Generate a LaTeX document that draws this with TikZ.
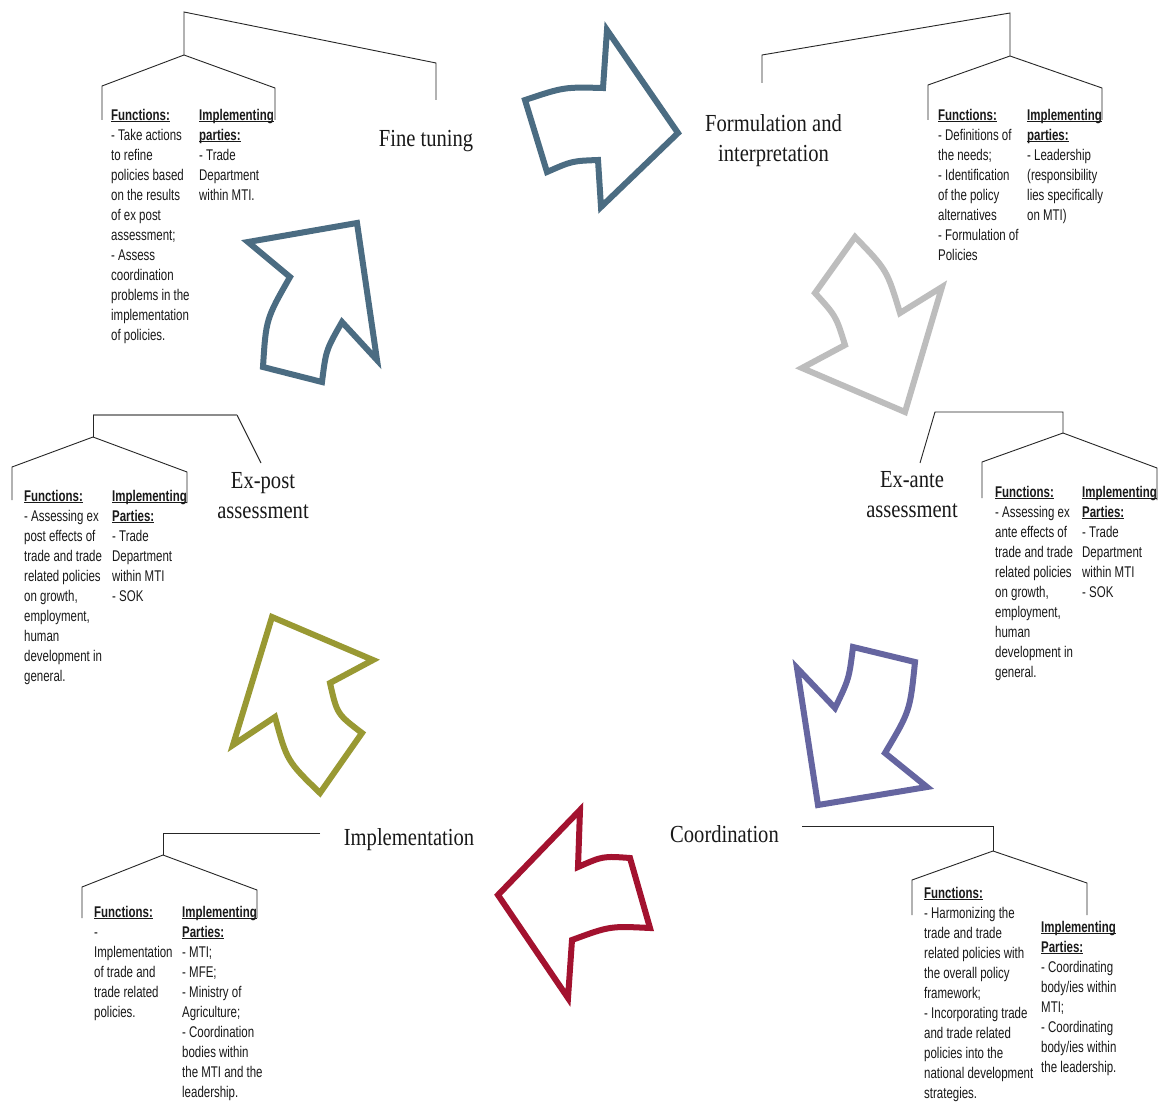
\documentclass[tikz,border=0pt]{standalone}
\usepackage{fontspec}
\setmainfont{Liberation Serif}
\newfontfamily\titlefont[FakeStretch=0.84]{Liberation Serif}
\newfontfamily\smallfont[FakeStretch=0.74]{Liberation Sans}
\definecolor{cBlue}{HTML}{4B6C82}
\definecolor{cGray}{HTML}{BDBDBD}
\definecolor{cPurple}{HTML}{6565A0}
\definecolor{cRed}{HTML}{A3122F}
\definecolor{cOlive}{HTML}{999933}
\newcommand\hdr[1]{\underline{\smash{\textbf{#1}}}}
\begin{document}
\begin{tikzpicture}[x=1pt,y=-1pt,
  arr/.style={line width=6pt, line join=miter, miter limit=10, fill=white},
  brk/.style={line width=0.9pt, draw=black!85, line join=miter},
  col/.style={anchor=north west, inner sep=0pt, align=left, text=black!90, font=\smallfont\fontsize{15.5}{20}\selectfont},
  ttl/.style={inner sep=0pt, text=black!90, font=\titlefont\fontsize{24.5}{30}\selectfont}]
\fill[white] (0,0) rectangle (1159,1102);
\useasboundingbox (0,0) rectangle (1159,1102);

% ---------- arrows ----------
\draw[arr, draw=cBlue] (525,100) .. controls (564,87) .. (603,88) -- (607,30) -- (678,133) -- (601,207) -- (598,160) .. controls (572,161) .. (547,172) -- cycle;
\draw[arr, draw=cGray] (855,237) .. controls (887,270) .. (900,313) -- (942,287) -- (905,412) -- (802,368) -- (845,345) .. controls (836,316) .. (815,293) -- cycle;
\draw[arr, draw=cPurple] (915,662) .. controls (910,711) .. (885,753) -- (927,787) -- (818,805) -- (797,668) -- (835,708) .. controls (849,679) .. (853,647) -- cycle;
\draw[arr, draw=cRed] (580,810) -- (578,867) .. controls (603,856) .. (630,858) -- (650,928) .. controls (610,926) .. (572,940) -- (568,998) -- (498,895) -- cycle;
\draw[arr, draw=cOlive] (272,617) -- (373,660) -- (330,683) .. controls (337,714) .. (362,733) -- (320,793) .. controls (287,761) .. (275,717) -- (233,745) -- cycle;
\draw[arr, draw=cBlue] (248,242) -- (357,223) -- (377,360) -- (342,322) .. controls (326,350) .. (322,382) -- (263,367) .. controls (266,319) .. (290,277) -- cycle;

% ---------- titles ----------
\node[ttl, anchor=base] (fine) at (426,147) {Fine tuning};
\node[ttl, anchor=north, align=center] (form) at (773.5,110.7) {\strut Formulation and\\interpretation};
\node[ttl, anchor=north, align=center] (expost) at (263,467) {\strut Ex-post\\assessment};
\node[ttl, anchor=north, align=center] (exante) at (912,466) {\strut Ex-ante\\assessment};
\node[ttl, anchor=base] (impl) at (409,845) {Implementation};
\node[ttl, anchor=base] (coord) at (724.5,842) {Coordination};

% ---------- brackets ----------
\draw[brk] (436,100) -- (436,63) -- (184,12) -- (184,55);
\draw[brk] (102,120) -- (102,86) -- (184,55) -- (275,88) -- (275,120);

\draw[brk] (762,83) -- (762,55) -- (1010,13) -- (1010,56);
\draw[brk] (928,120) -- (928,85) -- (1010,56) -- (1102,88) -- (1102,120);

\draw[brk] (261,463) -- (237,415);
\draw[line width=1.6pt, draw=black!45] (237,415) -- (93,415);
\draw[brk] (93,415) -- (93,437);
\draw[brk] (12,500) -- (12,467) -- (93,437) -- (187,472) -- (187,503);

\draw[brk] (920,463) -- (935,412) -- (1063,412) -- (1063,433);
\draw[brk] (982,498) -- (982,462) -- (1063,433) -- (1157,468) -- (1157,500);

\draw[brk] (320,833) -- (163,833) -- (163,855);
\draw[brk] (82,918) -- (82,887) -- (163,855) -- (257,890) -- (257,918);

\draw[brk] (802,826) -- (993,826) -- (993,851);
\draw[brk] (912,915) -- (912,880) -- (993,851) -- (1087,883) -- (1087,915);

% ---------- text columns ----------
\node[col] (f1) at (111,106) {\strut\hdr{Functions:}\\- Take actions\\to refine\\policies based\\on the results\\of ex post\\assessment;\\- Assess\\coordination\\problems in the\\implementation\\of policies.};
\node[col] (i1) at (199,106) {\strut\hdr{Implementing}\\\hdr{parties:}\\- Trade\\Department\\within MTI.};

\node[col] (f2) at (938,106) {\strut\hdr{Functions:}\\- Definitions of\\the needs;\\- Identification\\of the policy\\alternatives\\- Formulation of\\Policies};
\node[col] (i2) at (1027,106) {\strut\hdr{Implementing}\\\hdr{parties:}\\- Leadership\\(responsibility\\lies specifically\\on MTI)};

\node[col] (f3) at (24,487) {\strut\hdr{Functions:}\\- Assessing ex\\post effects of\\trade and trade\\related policies\\on growth,\\employment,\\human\\development in\\general.};
\node[col] (i3) at (112,487) {\strut\hdr{Implementing}\\\hdr{Parties:}\\- Trade\\Department\\within MTI\\- SOK};

\node[col] (f4) at (995,483) {\strut\hdr{Functions:}\\- Assessing ex\\ante effects of\\trade and trade\\related policies\\on growth,\\employment,\\human\\development in\\general.};
\node[col] (i4) at (1082,483) {\strut\hdr{Implementing}\\\hdr{Parties:}\\- Trade\\Department\\within MTI\\- SOK};

\node[col] (f5) at (94,903) {\strut\hdr{Functions:}\\-\\Implementation\\of trade and\\trade related\\policies.};
\node[col] (i5) at (182,903) {\strut\hdr{Implementing}\\\hdr{Parties:}\\- MTI;\\- MFE;\\- Ministry of\\Agriculture;\\- Coordination\\bodies within\\the MTI and the\\leadership.};

\node[col] (f6) at (924,884) {\strut\hdr{Functions:}\\- Harmonizing the\\trade and trade\\related policies with\\the overall policy\\framework;\\- Incorporating trade\\and trade related\\policies into the\\national development\\strategies.};
\node[col] (i6) at (1041,918) {\strut\hdr{Implementing}\\\hdr{Parties:}\\- Coordinating\\body/ies within\\MTI;\\- Coordinating\\body/ies within\\the leadership.};
\end{tikzpicture}
\end{document}
